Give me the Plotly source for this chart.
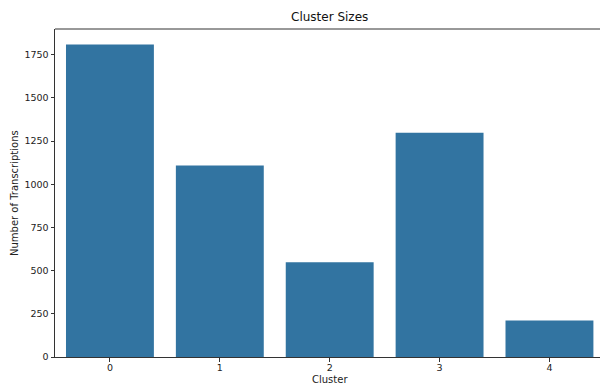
import plotly.graph_objects as go

clusters = ["0", "1", "2", "3", "4"]
sizes = [1808, 1109, 548, 1298, 211]
y_ticks = [0, 250, 500, 750, 1000, 1250, 1500, 1750]

W, H = 600, 385
L, R, T, B = 55, 0, 29, 28

bar_color = "#3274a1"
font = "DejaVu Sans"

fig = go.Figure(
    go.Bar(
        x=list(range(len(clusters))),
        y=sizes,
        width=0.8,
        marker=dict(color=bar_color, line=dict(width=0)),
        hoverinfo="skip",
    )
)

ymax = max(sizes) * 1.05

fig.update_layout(
    width=W,
    height=H,
    margin=dict(l=L, r=R, t=T, b=B),
    paper_bgcolor="white",
    plot_bgcolor="white",
    showlegend=False,
    font=dict(family=font, color="#222222", size=9.5),
    xaxis=dict(
        range=[-0.5, 4.46],
        tickmode="array",
        tickvals=list(range(len(clusters))),
        ticktext=clusters,
        showgrid=False,
        zeroline=False,
        showline=True,
        linecolor="#333333",
        linewidth=1,
        mirror=False,
        ticks="outside",
        ticklen=3.5,
        tickwidth=1,
        tickcolor="#333333",
        ticklabelstandoff=-2,
        tickfont=dict(size=9.5, family=font, color="#222222"),
    ),
    yaxis=dict(
        range=[0, ymax],
        tickmode="array",
        tickvals=y_ticks,
        ticktext=[str(v) for v in y_ticks],
        showgrid=False,
        zeroline=False,
        showline=True,
        linecolor="#333333",
        linewidth=1,
        mirror=False,
        ticks="outside",
        ticklen=3.5,
        tickwidth=1,
        tickcolor="#333333",
        tickfont=dict(size=9.5, family=font, color="#222222"),
    ),
    shapes=[
        dict(type="line", xref="paper", yref="paper", x0=0, x1=1.01, y0=1, y1=1,
             line=dict(color="#333333", width=1)),
    ],
    annotations=[
        dict(text="Cluster Sizes", xref="paper", yref="paper",
             x=(329.5 - L) / (W - L - R), y=1 + (T - 17.5) / (H - T - B),
             xanchor="center", yanchor="middle", showarrow=False,
             font=dict(size=12, family=font, color="#111111")),
        dict(text="Cluster", xref="paper", yref="paper",
             x=(330 - L) / (W - L - R), y=-(379.5 - (H - B)) / (H - T - B),
             xanchor="center", yanchor="middle", showarrow=False,
             font=dict(size=10, family=font, color="#222222")),
        dict(text="Number of Transcriptions", xref="paper", yref="paper",
             x=-(L - 14) / (W - L - R), y=0.5, textangle=-90,
             xanchor="center", yanchor="middle", showarrow=False,
             font=dict(size=10, family=font, color="#222222")),
    ],
)

fig.write_html(
    "out.html",
    config={"displayModeBar": False},
    post_script="document.body.style.margin='0';document.body.style.overflow='hidden';",
)
